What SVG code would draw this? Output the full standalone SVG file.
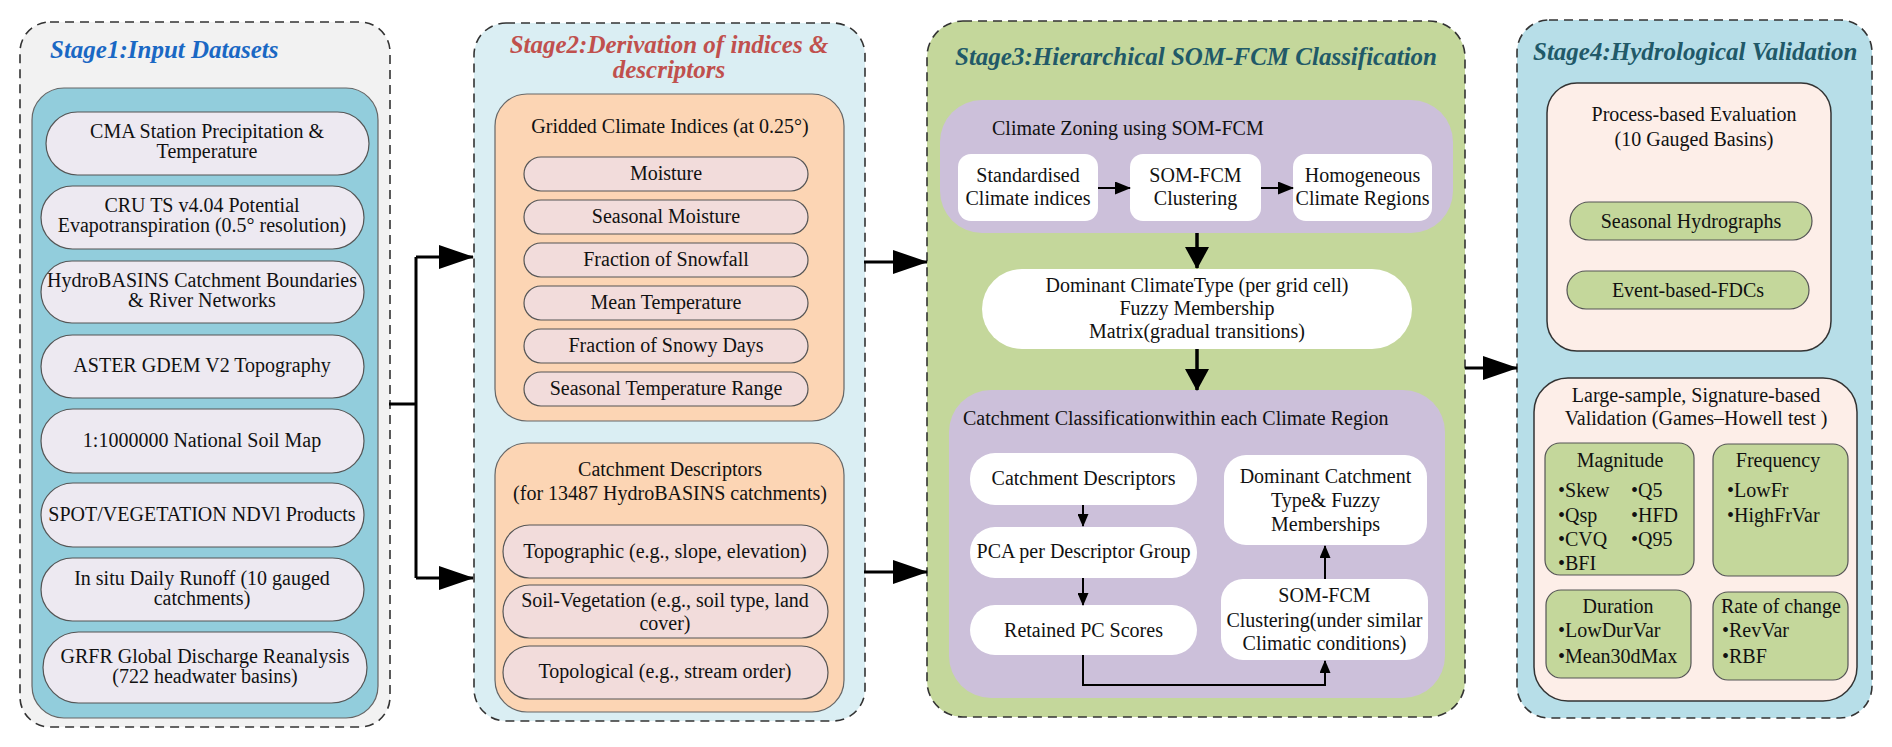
<svg xmlns="http://www.w3.org/2000/svg" width="1892" height="747" viewBox="0 0 1892 747">
<style>
text{font-family:"Liberation Serif","Times New Roman",serif;font-size:20px;fill:#111;}
.c{text-anchor:middle;}
.title{font-size:25px;font-weight:bold;font-style:italic;}
.stage{stroke:#333;stroke-width:1.6;stroke-dasharray:9 6;}
.in{stroke:#666;stroke-width:1.2;}
.dk{stroke:#333;stroke-width:1.5;}
.nost{stroke:none;}
.pill1{fill:#ede9f1;stroke:#555;stroke-width:1.2;}
.pill2{fill:#f2dcdb;stroke:#555;stroke-width:1.2;}
.wbox{fill:#fff;stroke:none;}
.gbox{fill:#c4d79b;stroke:#555;stroke-width:1.2;}
.conn{fill:none;stroke:#000;}
</style>
<defs>
<marker id="big" markerUnits="userSpaceOnUse" markerWidth="35" markerHeight="24" refX="34" refY="12" orient="auto"><path d="M0,0 L35,12 L0,24 z" fill="#000"/></marker>
<marker id="mid" markerUnits="userSpaceOnUse" markerWidth="22" markerHeight="24" refX="21" refY="12" orient="auto"><path d="M0,0 L22,12 L0,24 z" fill="#000"/></marker>
<marker id="sm" markerUnits="userSpaceOnUse" markerWidth="16" markerHeight="13" refX="15" refY="6.5" orient="auto"><path d="M0,0 L16,6.5 L0,13 z" fill="#000"/></marker>
<marker id="tiny" markerUnits="userSpaceOnUse" markerWidth="13" markerHeight="11" refX="12" refY="5.5" orient="auto"><path d="M0,0 L13,5.5 L0,11 z" fill="#000"/></marker>
</defs>
<rect width="1892" height="747" fill="#fff"/>

<!-- Stage 1 -->
<g id="stage1">
<rect x="20" y="22" width="370" height="705" rx="30" fill="#f2f2f2" class="stage"/>
<text x="50" y="58" class="title" style="fill:#1a68c4">Stage1:Input Datasets</text>
<rect x="32" y="88" width="346" height="630" rx="32" fill="#92cddc" class="in"/>
</g>
<g id="s1-cma"><rect x="46" y="112" width="323" height="63" rx="31.5" class="pill1"/><text x="207" y="138" class="c">CMA Station Precipitation &amp;</text><text x="207" y="158" class="c">Temperature</text></g>
<g id="s1-cru"><rect x="41" y="186" width="323" height="63" rx="31.5" class="pill1"/><text x="202" y="212" class="c">CRU TS v4.04 Potential</text><text x="202" y="232" class="c">Evapotranspiration (0.5° resolution)</text></g>
<g id="s1-hydrobasins"><rect x="41" y="261" width="323" height="62" rx="31" class="pill1"/><text x="202" y="287" class="c">HydroBASINS Catchment Boundaries</text><text x="202" y="307" class="c">&amp; River Networks</text></g>
<g id="s1-aster"><rect x="41" y="335" width="323" height="63" rx="31.5" class="pill1"/><text x="202" y="372" class="c">ASTER GDEM V2 Topography</text></g>
<g id="s1-soil"><rect x="41" y="409" width="323" height="64" rx="32" class="pill1"/><text x="202" y="447" class="c">1:1000000 National Soil Map</text></g>
<g id="s1-spot"><rect x="41" y="483" width="323" height="64" rx="32" class="pill1"/><text x="202" y="521" class="c">SPOT/VEGETATION NDVl Products</text></g>
<g id="s1-runoff"><rect x="41" y="558" width="323" height="63" rx="31.5" class="pill1"/><text x="202" y="585" class="c">In situ Daily Runoff (10 gauged</text><text x="202" y="605" class="c">catchments)</text></g>
<g id="s1-grfr"><rect x="43" y="632" width="324" height="71" rx="35.5" class="pill1"/><text x="205" y="663" class="c">GRFR Global Discharge Reanalysis</text><text x="205" y="683" class="c">(722 headwater basins)</text></g>

<!-- Stage 2 -->
<g id="stage2">
<rect x="474" y="23" width="391" height="698" rx="32" fill="#daeef3" class="stage"/>
<text x="669" y="53" class="title c" style="fill:#c0504d">Stage2:Derivation of indices &amp;</text>
<text x="669" y="78" class="title c" style="fill:#c0504d">descriptors</text>
</g>
<g id="s2-gridded">
<rect x="495" y="94" width="349" height="327" rx="32" fill="#fcd5b4" class="in"/>
<text x="670" y="133" class="c">Gridded Climate Indices (at 0.25°)</text>
</g>
<g id="s2-moisture"><rect x="524" y="157" width="284" height="34" rx="17" class="pill2"/><text x="666" y="180" class="c">Moisture</text></g>
<g id="s2-seasonal-moisture"><rect x="524" y="200" width="284" height="34" rx="17" class="pill2"/><text x="666" y="223" class="c">Seasonal Moisture</text></g>
<g id="s2-snowfall"><rect x="524" y="243" width="284" height="34" rx="17" class="pill2"/><text x="666" y="266" class="c">Fraction of Snowfall</text></g>
<g id="s2-mean-temp"><rect x="524" y="286" width="284" height="34" rx="17" class="pill2"/><text x="666" y="309" class="c">Mean Temperature</text></g>
<g id="s2-snowy-days"><rect x="524" y="329" width="284" height="34" rx="17" class="pill2"/><text x="666" y="352" class="c">Fraction of Snowy Days</text></g>
<g id="s2-temp-range"><rect x="524" y="372" width="284" height="34" rx="17" class="pill2"/><text x="666" y="395" class="c">Seasonal Temperature Range</text></g>
<g id="s2-catchment">
<rect x="495" y="443" width="349" height="269" rx="32" fill="#fcd5b4" class="in"/>
<text x="670" y="476" class="c">Catchment Descriptors</text>
<text x="670" y="500" class="c">(for 13487 HydroBASINS catchments)</text>
</g>
<g id="s2-topographic"><rect x="503" y="525" width="325" height="53" rx="26.5" class="pill2"/><text x="665" y="558" class="c">Topographic (e.g., slope, elevation)</text></g>
<g id="s2-soilveg"><rect x="503" y="585" width="325" height="53" rx="26.5" class="pill2"/><text x="665" y="607" class="c">Soil-Vegetation (e.g., soil type, land</text><text x="665" y="630" class="c">cover)</text></g>
<g id="s2-topological"><rect x="503" y="646" width="325" height="53" rx="26.5" class="pill2"/><text x="665" y="678" class="c">Topological (e.g., stream order)</text></g>

<!-- Stage 3 -->
<g id="stage3">
<rect x="927" y="21" width="538" height="696" rx="36" fill="#c4d79b" class="stage"/>
<text x="955" y="65" class="title" style="fill:#215968">Stage3:Hierarchical SOM-FCM Classification</text>
</g>
<g id="s3-zoning">
<rect x="940" y="100" width="513" height="133" rx="42" fill="#ccc0da" class="nost"/>
<text x="992" y="135">Climate Zoning using SOM-FCM</text>
</g>
<g id="s3-standardised"><rect x="958" y="154" width="140" height="67" rx="13" class="wbox"/><text x="1028" y="182" class="c">Standardised</text><text x="1028" y="205" class="c">Climate indices</text></g>
<g id="s3-somfcm1"><rect x="1130" y="154" width="131" height="67" rx="13" class="wbox"/><text x="1195.5" y="182" class="c">SOM-FCM</text><text x="1195.5" y="205" class="c">Clustering</text></g>
<g id="s3-homogeneous"><rect x="1293" y="154" width="139" height="67" rx="13" class="wbox"/><text x="1362.5" y="182" class="c">Homogeneous</text><text x="1362.5" y="205" class="c">Climate Regions</text></g>
<g id="s3-dominant-climate"><rect x="982" y="269" width="430" height="80" rx="40" class="wbox"/><text x="1197" y="292" class="c">Dominant ClimateType (per grid cell)</text><text x="1197" y="315" class="c">Fuzzy Membership</text><text x="1197" y="338" class="c">Matrix(gradual transitions)</text></g>
<g id="s3-catchclass">
<rect x="949" y="390" width="496" height="308" rx="42" fill="#ccc0da" class="nost"/>
<text x="963" y="425">Catchment Classificationwithin each Climate Region</text>
</g>
<g id="s3-catch-desc"><rect x="970" y="453" width="227" height="52" rx="25" class="wbox"/><text x="1083.5" y="485" class="c">Catchment Descriptors</text></g>
<g id="s3-pca"><rect x="970" y="527" width="227" height="51" rx="25" class="wbox"/><text x="1083.5" y="558" class="c">PCA per Descriptor Group</text></g>
<g id="s3-retained"><rect x="970" y="605" width="227" height="50" rx="25" class="wbox"/><text x="1083.5" y="637" class="c">Retained PC Scores</text></g>
<g id="s3-dominant-catch"><rect x="1224" y="455" width="203" height="90" rx="22" class="wbox"/><text x="1325.5" y="483" class="c">Dominant Catchment</text><text x="1325.5" y="507" class="c">Type&amp; Fuzzy</text><text x="1325.5" y="531" class="c">Memberships</text></g>
<g id="s3-somfcm2"><rect x="1221" y="579" width="207" height="81" rx="22" class="wbox"/><text x="1324.5" y="602" class="c">SOM-FCM</text><text x="1324.5" y="627" class="c">Clustering(under similar</text><text x="1324.5" y="650" class="c">Climatic conditions)</text></g>

<!-- Stage 4 -->
<g id="stage4">
<rect x="1517" y="20" width="355" height="698" rx="32" fill="#b7dee8" class="stage"/>
<text x="1533" y="60" class="title" style="fill:#215968">Stage4:Hydrological Validation</text>
</g>
<g id="s4-process">
<rect x="1547" y="83" width="284" height="268" rx="30" fill="#fdeee8" class="dk"/>
<text x="1694" y="121" class="c">Process-based Evaluation</text>
<text x="1694" y="146" class="c">(10 Gauged Basins)</text>
</g>
<g id="s4-hydrographs"><rect x="1570" y="202" width="242" height="38" rx="19" class="gbox"/><text x="1691" y="228" class="c">Seasonal Hydrographs</text></g>
<g id="s4-fdcs"><rect x="1567" y="271" width="242" height="38" rx="19" class="gbox"/><text x="1688" y="297" class="c">Event-based-FDCs</text></g>
<g id="s4-largesample">
<rect x="1534" y="378" width="323" height="323" rx="34" fill="#fdeee8" class="dk"/>
<text x="1696" y="402" class="c">Large-sample, Signature-based</text>
<text x="1696" y="425" class="c">Validation (Games–Howell test )</text>
</g>
<g id="s4-magnitude"><rect x="1545" y="443" width="149" height="132" rx="15" class="gbox"/><text x="1620" y="467" class="c">Magnitude</text>
<text x="1558" y="497">•Skew</text><text x="1631" y="497">•Q5</text>
<text x="1558" y="522">•Qsp</text><text x="1631" y="522">•HFD</text>
<text x="1558" y="546">•CVQ</text><text x="1631" y="546">•Q95</text>
<text x="1558" y="570">•BFI</text></g>
<g id="s4-frequency"><rect x="1713" y="444" width="135" height="132" rx="15" class="gbox"/><text x="1778" y="467" class="c">Frequency</text>
<text x="1727" y="497">•LowFr</text><text x="1727" y="522">•HighFrVar</text></g>
<g id="s4-duration"><rect x="1546" y="590" width="145" height="88" rx="15" class="gbox"/><text x="1618" y="613" class="c">Duration</text>
<text x="1558" y="637">•LowDurVar</text><text x="1558" y="663">•Mean30dMax</text></g>
<g id="s4-rate"><rect x="1713" y="592" width="135" height="88" rx="15" class="gbox"/><text x="1781" y="613" class="c">Rate of change</text>
<text x="1722" y="637">•RevVar</text><text x="1722" y="663">•RBF</text></g>

<!-- Connectors -->
<g id="connectors">
<path class="conn" stroke-width="3" d="M389,404 H416 M416,257 V578"/>
<path class="conn" stroke-width="3" d="M416,257 H473" marker-end="url(#big)"/>
<path class="conn" stroke-width="3" d="M416,578 H473" marker-end="url(#big)"/>
<path class="conn" stroke-width="3" d="M864,262 H927" marker-end="url(#big)"/>
<path class="conn" stroke-width="3" d="M864,572 H927" marker-end="url(#big)"/>
<path class="conn" stroke-width="3" d="M1465,368 H1517" marker-end="url(#big)"/>
<path class="conn" stroke-width="2" d="M1098,188 H1130" marker-end="url(#sm)"/>
<path class="conn" stroke-width="2" d="M1261,188 H1293" marker-end="url(#sm)"/>
<path class="conn" stroke-width="3.5" d="M1197,233 V268" marker-end="url(#mid)"/>
<path class="conn" stroke-width="3.5" d="M1197,349 V390" marker-end="url(#mid)"/>
<path class="conn" stroke-width="2" d="M1083,505 V526" marker-end="url(#tiny)"/>
<path class="conn" stroke-width="2" d="M1083,578 V605" marker-end="url(#tiny)"/>
<path class="conn" stroke-width="2" d="M1325,579 V546" marker-end="url(#tiny)"/>
<path class="conn" stroke-width="2" d="M1083,655 V685 H1325 V661" marker-end="url(#tiny)"/>
</g>
</svg>
